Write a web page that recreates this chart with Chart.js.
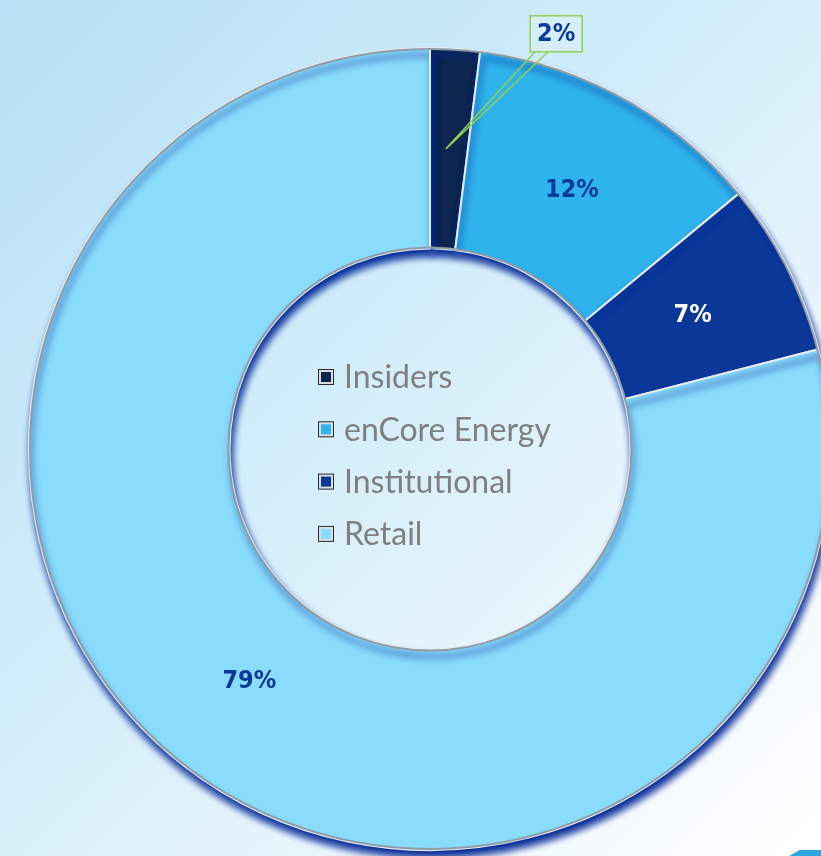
<!DOCTYPE html>
<html>
<head>
<meta charset="utf-8">
<script src="https://cdn.jsdelivr.net/npm/chart.js@4.4.1/dist/chart.umd.min.js"></script>
<style>
  html, body {
    margin: 0;
    padding: 0;
    width: 821px;
    height: 856px;
    overflow: hidden;
  }
  body {
    position: relative;
    background: linear-gradient(135deg, #b6e0f5 0%, #d0ecfa 40%, #ecf7fd 75%, #ffffff 100%);
  }
  #wrap {
    position: absolute;
    left: 0;
    top: 0;
    width: 860px;
    height: 860px;
  }
  #corner {
    position: absolute;
    right: -10px;
    bottom: -4px;
    width: 40px;
    height: 10px;
    background: #2aa8e4;
    transform: skewX(-60deg);
  }
</style>
</head>
<body>
<div id="wrap"><canvas id="share-chart"></canvas></div>
<div id="corner"></div>
<script>
// Shareholder breakdown
const categories = ["Insiders", "enCore Energy", "Institutional", "Retail"];
const shares = [2, 12, 7, 79];
const sliceColors = ["#0c2650", "#2fb3ec", "#0b3898", "#8adcfc"];
const labelColors = ["#0b3a9a", "#0b3a9a", "#ffffff", "#0b3a9a"];

// Dark-blue drop shadow under the ring
const ringShadow = {
  id: "ringShadow",
  beforeDatasetsDraw(chart) {
    const ctx = chart.ctx;
    ctx.save();
    ctx.shadowColor = "rgba(0, 38, 150, 1)";
    ctx.shadowBlur = 7;
    ctx.shadowOffsetX = 2;
    ctx.shadowOffsetY = 7;
  },
  afterDatasetsDraw(chart) {
    const ctx = chart.ctx;
    ctx.restore();
    // grey rims on the outer and inner edges
    const arc = chart.getDatasetMeta(0).data[0];
    ctx.save();
    ctx.strokeStyle = "#8e9ca6";
    ctx.lineWidth = 2;
    ctx.beginPath();
    ctx.arc(arc.x, arc.y, arc.outerRadius - 1, 0, Math.PI * 2);
    ctx.stroke();
    ctx.beginPath();
    ctx.arc(arc.x, arc.y, arc.innerRadius + 1, 0, Math.PI * 2);
    ctx.stroke();
    ctx.restore();
  }
};

// Percent labels on each slice, with a callout box for the tiny slice
const sliceLabels = {
  id: "sliceLabels",
  afterDatasetsDraw(chart) {
    const ctx = chart.ctx;
    const arcs = chart.getDatasetMeta(0).data;
    ctx.save();
    ctx.font = "bold 25px 'DejaVu Sans Condensed', 'DejaVu Sans'";
    ctx.textAlign = "center";
    ctx.textBaseline = "middle";
    arcs.forEach((arc, i) => {
      const mid = (arc.startAngle + arc.endAngle) / 2;
      const r = (arc.innerRadius + arc.outerRadius) / 2;
      const text = shares[i] + "%";
      if (shares[i] < 5) {
        const px = arc.x + Math.cos(mid) * r;
        const py = arc.y + Math.sin(mid) * r;
        const ox = arc.x + Math.cos(mid) * arc.outerRadius;
        const oy = arc.y + Math.sin(mid) * arc.outerRadius;
        const bx = ox + 101, by = oy - 15;
        const bw = 52, bh = 36;
        ctx.fillStyle = "rgba(214, 238, 250, 0.95)";
        ctx.fillRect(bx - bw / 2, by - bh / 2, bw, bh);
        ctx.strokeStyle = "#92d050";
        ctx.lineWidth = 1.5;
        ctx.strokeRect(bx - bw / 2, by - bh / 2, bw, bh);
        ctx.beginPath();
        ctx.moveTo(bx - 21, by + bh / 2);
        ctx.lineTo(px - 3, py);
        ctx.lineTo(bx - 8, by + bh / 2);
        ctx.stroke();
        ctx.fillStyle = labelColors[i];
        ctx.fillText(text, bx, by + 1);
      } else {
        ctx.fillStyle = labelColors[i];
        ctx.fillText(text, arc.x + Math.cos(mid) * r * 0.98, arc.y + Math.sin(mid) * r * 0.98);
      }
    });
    ctx.restore();
  }
};

// Legend drawn inside the hole
const centerLegend = {
  id: "centerLegend",
  afterDraw(chart) {
    const ctx = chart.ctx;
    const arc = chart.getDatasetMeta(0).data[0];
    const left = arc.x - 112;
    const top = arc.y - 72;
    const rowGap = 52.3;
    ctx.save();
    ctx.font = "32px Lato";
    ctx.textBaseline = "middle";
    ctx.textAlign = "left";
    categories.forEach((name, i) => {
      const y = top + i * rowGap;
      ctx.fillStyle = "#2a2a2a";
      ctx.fillRect(left, y - 8, 16, 16);
      ctx.fillStyle = "#d9dfe3";
      ctx.fillRect(left + 1, y - 7, 14, 14);
      ctx.fillStyle = sliceColors[i];
      ctx.fillRect(left + 3, y - 5, 10, 10);
      ctx.fillStyle = "#7f7f7f";
      ctx.fillText(name, left + 26, y + 1);
    });
    ctx.restore();
  }
};

new Chart(document.getElementById("share-chart"), {
  type: "doughnut",
  data: {
    labels: categories,
    datasets: [{
      data: shares,
      backgroundColor: sliceColors,
      borderColor: "#e4ecf0",
      borderWidth: 2
    }]
  },
  options: {
    responsive: true,
    maintainAspectRatio: false,
    animation: false,
    cutout: "50%",
    rotation: 0,
    layout: { padding: { left: 28, top: 47, right: 28, bottom: 9 } },
    plugins: {
      legend: { display: false },
      tooltip: { enabled: false }
    }
  },
  plugins: [ringShadow, sliceLabels, centerLegend]
});
</script>
</body>
</html>
